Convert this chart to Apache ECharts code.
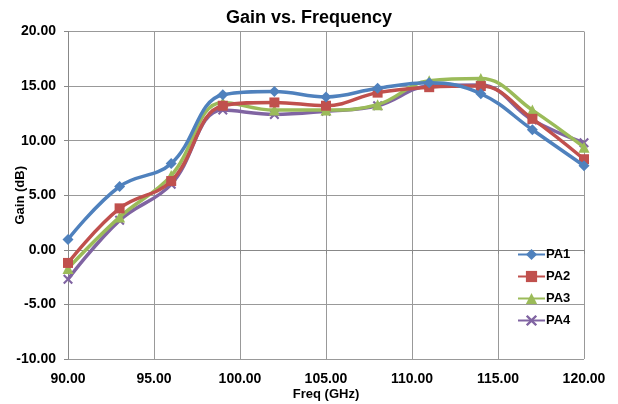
<!DOCTYPE html>
<html><head><meta charset="utf-8">
<script src="https://cdn.jsdelivr.net/npm/echarts@6/dist/echarts.min.js"></script>
<style>html,body{margin:0;padding:0;background:#fff}#c{width:618px;height:404px}</style>
</head><body><div id="c"></div>
<script>
var freq = [90, 93, 96, 99, 102, 105, 108, 111, 114, 117, 120];
var pa1 = [0.95, 5.8, 7.9, 14.2, 14.5, 14.0, 14.8, 15.3, 14.3, 11.0, 7.7];
var pa2 = [-1.2, 3.8, 6.3, 13.2, 13.5, 13.2, 14.4, 14.9, 15.0, 12.0, 8.3];
var pa3 = [-1.7, 3.0, 6.8, 13.5, 12.8, 12.8, 13.3, 15.5, 15.7, 12.8, 9.4];
var pa4 = [-2.7, 2.7, 6.0, 12.8, 12.4, 12.7, 13.2, 15.0, 15.1, 11.9, 9.8];
var names = ['PA1', 'PA2', 'PA3', 'PA4'];
var colors = ['#4F81BD', '#C0504D', '#9BBB59', '#8064A2'];
var xSym = 'path://M0,1.5L1.5,0L5,3.5L8.5,0L10,1.5L6.5,5L10,8.5L8.5,10L5,6.5L1.5,10L0,8.5L3.5,5Z';
var symbols = ['diamond', 'rect', 'triangle', xSym];
var sizes = [11, 10, 11, 10];
var all = [pa1, pa2, pa3, pa4];
var font = '"Liberation Sans", Arial, sans-serif';
var series = all.map(function (d, i) {
  return {
    name: names[i], type: 'line', smooth: 0.4,
    data: freq.map(function (f, j) { return [f, d[j]]; }),
    symbol: symbols[i], symbolSize: sizes[i],
    lineStyle: { width: 3.5, color: colors[i] },
    itemStyle: { color: colors[i] },
    z: 10 - i
  };
});
var chart = echarts.init(document.getElementById('c'));
chart.setOption({
  animation: false,
  title: { text: 'Gain vs. Frequency', left: 'center', top: 4,
    textStyle: { fontFamily: font, fontSize: 18, fontWeight: 'bold', color: '#000' } },
  grid: { left: 68, right: 34, top: 31.5, bottom: 45, outerBoundsMode: 'none', containLabel: false },
  legend: {
    orient: 'vertical', left: 512, top: 243, itemGap: 9, itemWidth: 27, itemHeight: 14,
    data: names,
    textStyle: { fontFamily: font, fontSize: 13, fontWeight: 'bold', color: '#000', padding: [0, 0, 0, -4] }
  },
  xAxis: {
    type: 'value', min: 90, max: 120, interval: 5,
    name: 'Freq (GHz)', nameLocation: 'middle', nameGap: 29, nameMoveOverlap: false,
    nameTextStyle: { fontFamily: font, fontSize: 13, fontWeight: 'bold', color: '#000' },
    axisLine: { lineStyle: { color: '#888', width: 1 } },
    axisTick: { show: true, length: 4, lineStyle: { color: '#888' } },
    axisLabel: { fontFamily: font, fontSize: 14, fontWeight: 'bold', color: '#000', margin: 13,
      formatter: function (v) { return v.toFixed(2); } },
    splitLine: { show: true, lineStyle: { color: '#999', width: 1 } }
  },
  yAxis: {
    type: 'value', min: -10, max: 20, interval: 5,
    name: 'Gain (dB)', nameLocation: 'middle', nameGap: 41, nameRotate: 90, nameMoveOverlap: false,
    nameTextStyle: { fontFamily: font, fontSize: 13, fontWeight: 'bold', color: '#000' },
    axisLine: { show: true, lineStyle: { color: '#888', width: 1 } },
    axisTick: { show: true, length: 4, lineStyle: { color: '#888' } },
    axisLabel: { fontFamily: font, fontSize: 14, fontWeight: 'bold', color: '#000', margin: 12,
      formatter: function (v) { return v.toFixed(2); } },
    splitLine: { show: true, lineStyle: { color: '#999', width: 1 } }
  },
  series: series
});
</script></body></html>
